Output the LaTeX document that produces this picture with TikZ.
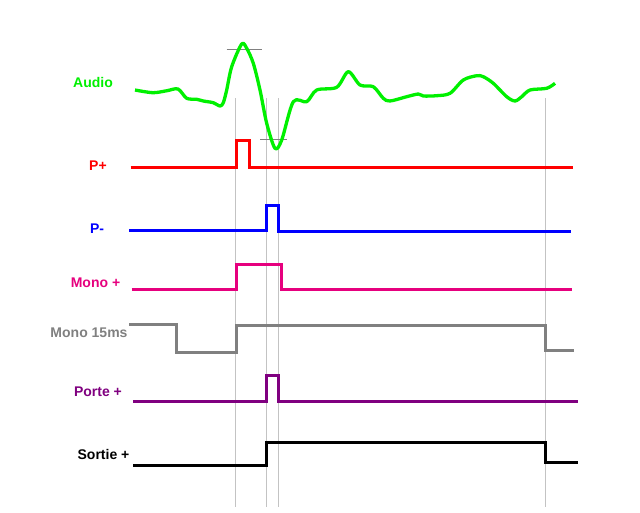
\documentclass[tikz,border=0pt]{standalone}
\usepackage{fontspec}
\setmainfont{Liberation Sans}
\definecolor{audiogreen}{RGB}{0,240,0}
\definecolor{monopink}{RGB}{230,0,126}
\definecolor{portepurple}{RGB}{128,0,128}
\definecolor{guidegray}{RGB}{195,195,195}
\definecolor{monogray}{RGB}{128,128,128}
\tikzset{
  sig/.style={line width=3pt, line join=miter},
  guide/.style={guidegray, line width=1pt},
  tick/.style={monogray, line width=1pt},
  lbl/.style={font=\fontsize{14}{16}\selectfont\bfseries, inner sep=0pt}
}
\begin{document}
\begin{tikzpicture}[x=1pt, y=-1pt]
\useasboundingbox[fill=white] (0,0) rectangle (640,512);

\draw[guide] (235,98) -- (235,507);
\draw[guide] (266.7,98) -- (266.7,507);
\draw[guide] (278.3,98) -- (278.3,507);
\draw[guide] (545.3,98) -- (545.3,507);

\draw[tick] (226.7,49) -- (261.7,49);
\draw[tick] (260,139.3) -- (286.7,139.3);

\draw[sig, audiogreen, line width=3.3pt, line join=round] plot[smooth, tension=0.5] coordinates {
  (135,90) (153,92.7) (167,90.7) (178,89) (186.7,98.3) (196.7,99.3) (203.3,101)
  (213.3,102.7) (220,106) (223.3,102.7) (226.7,90) (231.7,66.7) (241.7,44)
  (246.7,48.3) (253.3,63.3) (260,90) (266.7,123.3) (275,148.3) (281.7,140)
  (293.3,101.7) (306.7,101.7) (316.7,90) (336.7,87.3) (348.3,71.7) (360,85)
  (373.3,86.7) (383.3,98.3) (390,101) (406.7,96.7) (418.3,94) (423.3,96)
  (436.7,95.7) (450,93.3) (463.3,80) (476.7,75.7) (483.3,76.7) (493.3,83.3)
  (506.7,96.7) (515,101) (521.7,96.7) (530,90) (546.7,88.3) (555,83.3)};

\draw[sig, red] (130.7,167.3) -- (236,167.3) -- (236,140) -- (249.3,140)
  -- (249.3,167.3) -- (573,167.3);
\draw[sig, blue] (129.3,230) -- (266.7,230) -- (266.7,205) -- (278,205)
  -- (278,231) -- (571,231);
\draw[sig, monopink] (131.7,289.3) -- (236,289.3) -- (236,264) -- (281.3,264)
  -- (281.3,289.3) -- (572,289.3);
\draw[sig, monogray] (129.3,324) -- (176,324) -- (176,352.7) -- (236,352.7)
  -- (236,325) -- (545.3,325) -- (545.3,350) -- (574.3,350);
\draw[sig, portepurple] (133.3,401.7) -- (266.7,401.7) -- (266.7,375) -- (278,375)
  -- (278,401.7) -- (578,401.7);
\draw[sig, black] (133.3,465) -- (266.7,465) -- (266.7,442.3) -- (545.7,442.3)
  -- (545.7,462.3) -- (578,462.3);

\node[lbl, audiogreen] (audio) at (93,82) {Audio};
\node[lbl, red] (pplus) at (98,166) {P+};
\node[lbl, blue] (pmoins) at (97,229) {P-};
\node[lbl, monopink] (monoplus) at (95.5,283) {Mono +};
\node[lbl, monogray] (mono15) at (89,333) {Mono 15ms};
\node[lbl, portepurple] (porte) at (98,392) {Porte +};
\node[lbl, black] (sortie) at (103.5,454) {Sortie +};
\end{tikzpicture}
\end{document}
